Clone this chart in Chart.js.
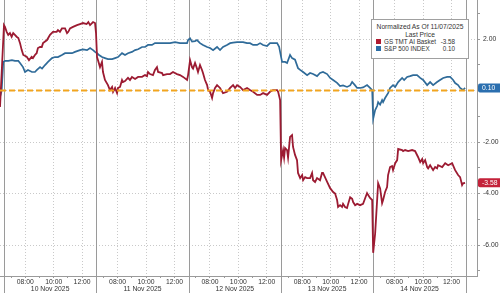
<!DOCTYPE html>
<html lang="en">
<head>
<meta charset="UTF-8">
<title>GS TMT AI Basket vs S&P 500 Index</title>
<script src="https://cdn.jsdelivr.net/npm/chart.js"></script>
<style>
  body { margin: 0; background: #fff; }
  .wrap { position: relative; width: 500px; height: 293px; overflow: hidden; }
  canvas { display: block; }
  .legend {
    position: absolute; left: 371px; top: 19px; width: 96px; height: 35px;
    border: 1px solid #a0a0a0; background: #fff;
    font-family: 'Liberation Sans', sans-serif; font-size: 6.7px; color: #333;
    padding-top: 3px; box-sizing: content-box;
  }
  .legend .c { text-align: center; height: 7.5px; line-height: 7.5px; white-space: nowrap; }
  .legend .row { display: flex; align-items: center; height: 7px; line-height: 7px; white-space: nowrap; font-size: 6.3px; }
  .legend .sq { width: 5px; height: 5px; margin-left: 4px; margin-right: 3px; flex: none; }
  .legend .v { margin-left: auto; margin-right: 13px; }
</style>
</head>
<body>
<div class="wrap">
  <canvas id="chart" width="500" height="293"></canvas>
  <div class="legend">
    <div class="c">Normalized As Of 11/07/2025</div>
    <div class="c">Last Price</div>
    <div class="row"><span class="sq" style="background:#b01a30"></span><span>GS TMT AI Basket</span><span class="v" id="lvBasket"></span></div>
    <div class="row"><span class="sq" style="background:#2c6ea6"></span><span>S&amp;P 500 INDEX</span><span class="v" id="lvSpx"></span></div>
  </div>
</div>
<script>
// time axis is in trading hours since the 10 Nov open (06:30), 6.5 h per session
const dayLength = 6.5;
const dates = ['10 Nov 2025', '11 Nov 2025', '12 Nov 2025', '13 Nov 2025', '14 Nov 2025'];
const hourTicks = [0.5, 1.5, 2.5, 3.5, 4.5, 5.5];
const hourLabels = ['', '08:00', '', '10:00', '', '12:00'];
const yTicks = [3, 2, 1, 0, -1, -2, -3, -4, -5, -6, -7];
const yLabels = ['', '2.00', '', '', '', '-2.00', '', '-4.00', '', '-6.00', ''];

// GS TMT AI Basket
const basketT = [-0.28, 0.00, 0.07, 0.19, 0.30, 0.42, 0.54, 0.65, 0.77, 0.89, 1.01, 1.13, 1.25, 1.36, 1.60, 1.76, 1.95, 2.04, 2.18, 2.30,
  2.39, 2.54, 2.66, 2.75, 3.03, 3.24, 3.45, 3.71, 3.80, 3.94, 4.08, 4.30, 4.44, 4.53, 4.65, 4.86, 5.14, 5.35, 5.56, 5.82,
  5.94, 6.06, 6.27, 6.41, 6.48, 6.55, 6.62, 6.76, 6.90, 6.97, 7.11, 7.32, 7.46, 7.61, 7.68, 7.82, 7.96, 8.03, 8.17, 8.31,
  8.38, 8.52, 8.73, 8.87, 9.01, 9.23, 9.44, 9.72, 9.93, 10.07, 10.14, 10.28, 10.49, 10.63, 10.77, 10.85, 11.13, 11.20, 11.48, 11.69,
  11.90, 12.18, 12.39, 12.61, 12.89, 12.96, 13.10, 13.24, 13.31, 13.45, 13.59, 13.66, 13.80, 13.94, 14.01, 14.15, 14.30, 14.37, 14.51, 14.65,
  14.72, 14.86, 15.00, 15.21, 15.42, 15.70, 15.92, 16.13, 16.27, 16.41, 16.62, 16.83, 17.11, 17.32, 17.54, 17.82, 18.03, 18.24, 18.52, 18.73,
  18.94, 19.23, 19.30, 19.44, 19.51, 19.65, 19.72, 19.79, 19.93, 20.00, 20.14, 20.28, 20.35, 20.49, 20.63, 20.70, 20.85, 20.99, 21.06, 21.20,
  21.34, 21.55, 21.69, 21.76, 21.90, 22.04, 22.25, 22.39, 22.46, 22.75, 22.96, 23.17, 23.31, 23.45, 23.52, 23.66, 23.80, 23.87, 24.01, 24.15,
  24.23, 24.37, 24.51, 24.58, 24.72, 24.86, 25.07, 25.28, 25.56, 25.63, 25.77, 25.92, 25.99, 26.13, 26.27, 26.34, 26.48, 26.62, 26.69, 26.83,
  26.97, 27.04, 27.18, 27.32, 27.39, 27.54, 27.68, 27.75, 28.03, 28.10, 28.24, 28.45, 28.73, 28.94, 29.15, 29.30, 29.44, 29.51, 29.65, 29.79,
  29.86, 30.00, 30.21, 30.35, 30.49, 30.56, 30.85, 31.06, 31.27, 31.55, 31.76, 31.97, 32.11, 32.25, 32.32, 32.46];
const basketV = [-0.64, 2.54, 2.47, 2.28, 2.16, 2.23, 2.09, 2.23, 2.16, 2.09, 2.04, 1.84, 1.57, 1.38, 1.31, 1.18, 1.31, 1.26, 1.38, 1.45,
  1.65, 1.69, 1.69, 1.84, 1.96, 2.16, 2.28, 2.28, 2.35, 2.28, 2.41, 2.41, 2.23, 2.28, 2.41, 2.47, 2.54, 2.58, 2.62, 2.58,
  2.66, 2.54, 2.66, 2.62, 2.23, 1.30, 1.18, 0.91, 1.11, 0.72, 0.41, 0.21, 0.02, 0.14, -0.05, 0.10, -0.10, 0.10, 0.14, 0.41,
  0.33, 0.37, 0.49, 0.41, 0.53, 0.45, 0.53, 0.53, 0.60, 0.56, 0.72, 0.64, 0.60, 0.80, 0.91, 0.72, 0.68, 0.60, 0.64, 0.64,
  0.72, 0.64, 0.60, 0.53, 0.41, 0.60, 1.18, 0.90, 0.85, 1.07, 0.85, 0.72, 0.99, 0.80, 0.68, 0.41, 0.21, 0.02, -0.05, -0.29,
  -0.10, 0.10, 0.21, 0.10, -0.10, -0.05, 0.10, 0.21, 0.10, 0.21, 0.14, 0.02, 0.10, 0.02, -0.05, -0.17, -0.17, -0.10, -0.17, -0.05,
  0.02, 0.02, -0.05, -0.37, -2.70, -2.31, -2.60, -2.23, -2.31, -2.60, -1.80, -1.73, -2.19, -2.50, -2.70, -3.20, -3.40, -3.28, -3.48, -3.36,
  -3.40, -3.40, -3.20, -3.48, -3.55, -3.40, -3.48, -3.20, -3.20, -3.55, -3.79, -3.94, -4.00, -4.25, -4.52, -4.45, -4.52, -4.40, -4.52, -4.56,
  -4.40, -4.14, -4.20, -4.33, -4.45, -4.40, -4.45, -4.40, -3.98, -4.05, -4.17, -4.25, -6.30, -5.55, -4.25, -3.60, -3.80, -4.37, -4.25, -3.94,
  -3.75, -3.28, -2.97, -2.93, -3.09, -2.82, -2.70, -2.27, -2.31, -2.35, -2.31, -2.35, -2.31, -2.35, -2.58, -2.78, -2.66, -2.82, -2.70, -2.97,
  -3.02, -2.90, -3.09, -2.97, -3.02, -2.90, -2.97, -2.82, -2.90, -2.82, -3.09, -3.28, -3.36, -3.67, -3.60, -3.58];

// S&P 500 INDEX
const spxT = [-0.28, -0.16, -0.05, 0.07, 0.30, 0.56, 0.77, 1.01, 1.13, 1.34, 1.48, 1.69, 1.97, 2.18, 2.32, 2.54, 2.68, 2.89, 3.10, 3.38,
  3.59, 3.80, 4.08, 4.30, 4.51, 4.79, 5.00, 5.35, 5.56, 5.85, 6.06, 6.27, 6.41, 6.55, 6.69, 6.90, 7.11, 7.32, 7.61, 7.82,
  8.03, 8.31, 8.52, 8.73, 9.01, 9.23, 9.44, 9.72, 9.93, 10.14, 10.42, 10.63, 10.99, 11.34, 11.69, 12.04, 12.39, 12.61, 12.89, 12.96,
  13.10, 13.24, 13.45, 13.59, 13.80, 14.01, 14.30, 14.51, 14.72, 15.00, 15.21, 15.42, 15.70, 15.92, 16.13, 16.41, 16.62, 16.83, 17.11, 17.32,
  17.54, 17.82, 18.03, 18.24, 18.52, 18.73, 18.94, 19.23, 19.37, 19.51, 19.58, 19.79, 19.93, 20.14, 20.28, 20.49, 20.70, 20.85, 21.06, 21.34,
  21.55, 21.76, 22.04, 22.25, 22.46, 22.75, 22.96, 23.17, 23.45, 23.66, 23.87, 24.15, 24.37, 24.51, 24.72, 24.86, 25.07, 25.28, 25.56, 25.77,
  25.92, 25.99, 26.13, 26.27, 26.34, 26.48, 26.62, 26.69, 26.83, 27.04, 27.18, 27.39, 27.54, 27.75, 28.03, 28.17, 28.38, 28.59, 28.80, 29.08,
  29.30, 29.51, 29.79, 30.00, 30.21, 30.49, 30.70, 30.92, 31.20, 31.41, 31.62, 31.76, 31.97, 32.11, 32.32, 32.46];
const spxV = [-0.25, 0.00, 1.11, 1.15, 1.15, 1.18, 1.15, 1.15, 1.07, 0.91, 0.72, 0.80, 0.72, 0.72, 0.80, 0.91, 0.85, 0.99, 1.11, 1.26,
  1.30, 1.30, 1.38, 1.45, 1.45, 1.45, 1.50, 1.57, 1.60, 1.57, 1.65, 1.57, 1.50, 1.45, 1.38, 1.30, 1.26, 1.22, 1.22, 1.26,
  1.30, 1.45, 1.38, 1.45, 1.50, 1.57, 1.60, 1.69, 1.69, 1.77, 1.77, 1.84, 1.84, 1.84, 1.84, 1.88, 1.84, 1.84, 1.84, 1.96,
  2.03, 1.90, 1.92, 1.96, 1.84, 1.77, 1.69, 1.65, 1.57, 1.69, 1.57, 1.69, 1.77, 1.84, 1.86, 1.88, 1.88, 1.88, 1.84, 1.84,
  1.77, 1.77, 1.84, 1.77, 1.73, 1.84, 1.84, 1.84, 1.70, 1.30, 1.11, 1.11, 1.07, 1.38, 1.26, 1.20, 0.87, 0.80, 0.72, 0.60,
  0.68, 0.64, 0.56, 0.68, 0.72, 0.64, 0.49, 0.41, 0.30, 0.17, 0.20, 0.14, 0.20, 0.33, 0.20, 0.10, 0.10, 0.12, 0.21, 0.10,
  0.02, -1.10, -0.76, -0.60, -0.45, -0.55, -0.37, -0.45, -0.29, -0.10, 0.10, 0.21, 0.14, 0.33, 0.49, 0.41, 0.53, 0.56, 0.60, 0.60,
  0.49, 0.41, 0.21, 0.33, 0.21, 0.33, 0.41, 0.49, 0.53, 0.53, 0.41, 0.29, 0.21, 0.10, 0.02, 0.10];

const xMin = -0.28, xMax = 33.3;
const yMin = -7.2, yMax = 3.515;

const colors = {
  basket: '#9c1b32',
  spx: '#2f6b99',
  basketTag: '#c4223a',
  spxTag: '#2b6faf',
  zero: '#f2a51f',
  grid: '#c9c9c9',
  axis: '#9a9a9a',
  text: '#333333'
};

const toPoints = (t, v) => t.map((x, i) => ({ x: x, y: v[i] }));
const basketLast = basketV[basketV.length - 1];
const spxLast = spxV[spxV.length - 1];
document.getElementById('lvBasket').textContent = basketLast.toFixed(2);
document.getElementById('lvSpx').textContent = spxLast.toFixed(2);

// hourly ticks for every session, labels only on 08/10/12
const timeTicks = [];
const timeLabel = {};
dates.forEach((d, di) => {
  hourTicks.forEach((h, hi) => {
    const v = +(di * dayLength + h).toFixed(2);
    timeTicks.push({ value: v });
    timeLabel[v.toFixed(2)] = hourLabels[hi];
  });
});
const dateTicks = dates.map((d, di) => ({ value: di * dayLength + dayLength / 2 }));
const yLabelOf = {};
yTicks.forEach((v, i) => { yLabelOf[v] = yLabels[i]; });

// no extra room for half labels at the ends, plot goes edge to edge
const noPad = (s) => { s.paddingTop = 0; s.paddingBottom = 0; s.paddingLeft = 0; s.paddingRight = 0; };

Chart.defaults.font.family = "'Liberation Sans', sans-serif";
Chart.defaults.font.size = 6.8;
Chart.defaults.color = colors.text;

// solid session separators, running through the label rows as well
const daySeparators = {
  id: 'daySeparators',
  beforeDatasetsDraw(chart) {
    const { ctx, chartArea, scales: { x } } = chart;
    ctx.save();
    ctx.strokeStyle = colors.axis;
    ctx.lineWidth = 1;
    for (let d = 0; d <= dates.length; d++) {
      const px = Math.round(x.getPixelForValue(d * dayLength)) + 0.5;
      if (px < chartArea.left || px > chartArea.right) continue;
      ctx.beginPath();
      ctx.moveTo(px, chartArea.top);
      ctx.lineTo(px, chart.height);
      ctx.stroke();
    }
    ctx.restore();
  }
};

// last-value tags on the right axis
const lastTags = {
  id: 'lastTags',
  afterDraw(chart) {
    const { ctx, chartArea, scales: { y } } = chart;
    const tags = [[spxLast, colors.spxTag], [basketLast, colors.basketTag]];
    ctx.save();
    tags.forEach(([v, c]) => {
      const py = y.getPixelForValue(v);
      const left = chartArea.right + 1, w = chart.width - left, h = 9;
      ctx.fillStyle = c;
      ctx.beginPath();
      ctx.roundRect(left, py - h / 2, w + 3, h, 2);
      ctx.fill();
      ctx.fillStyle = '#fff';
      ctx.font = "6.8px 'Liberation Sans', sans-serif";
      ctx.textBaseline = 'middle';
      ctx.fillText(v.toFixed(2), left + 4, py + 0.5);
    });
    ctx.restore();
  }
};

new Chart(document.getElementById('chart'), {
  type: 'line',
  data: {
    datasets: [
      {
        label: 'zero',
        data: [{ x: xMin, y: 0 }, { x: xMax, y: 0 }],
        borderColor: colors.zero,
        borderWidth: 2,
        borderDash: [6, 3],
        pointRadius: 0,
        order: 0
      },
      {
        label: 'GS TMT AI Basket',
        data: toPoints(basketT, basketV),
        borderColor: colors.basket,
        borderWidth: 1.8,
        pointRadius: 0,
        tension: 0,
        order: 1
      },
      {
        label: 'S&P 500 INDEX',
        data: toPoints(spxT, spxV),
        borderColor: colors.spx,
        borderWidth: 1.7,
        pointRadius: 0,
        tension: 0,
        order: 2
      }
    ]
  },
  options: {
    responsive: false,
    animation: false,
    layout: { padding: 0 },
    plugins: { legend: { display: false }, tooltip: { enabled: false } },
    scales: {
      x: {
        type: 'linear',
        position: 'bottom',
        weight: 0,
        min: xMin,
        max: xMax,
        afterBuildTicks: (s) => { s.ticks = timeTicks.slice(); },
        afterFit: (s) => { s.height = 9.5; noPad(s); },
        ticks: {
          autoSkip: false,
          maxRotation: 0,
          padding: 0.5,
          callback: (v) => timeLabel[(+v).toFixed(2)] || ''
        },
        grid: {
          color: (c) => (c.tick && timeLabel[c.tick.value.toFixed(2)]) ? colors.grid : 'rgba(0,0,0,0)',
          tickColor: colors.axis,
          tickLength: 2
        },
        border: { display: true, color: colors.axis, dash: [1, 2] }
      },
      x2: {
        type: 'linear',
        position: 'bottom',
        weight: 1,
        min: xMin,
        max: xMax,
        afterBuildTicks: (s) => { s.ticks = dateTicks.slice(); },
        afterFit: (s) => { s.height = 7.5; noPad(s); },
        ticks: {
          autoSkip: false,
          maxRotation: 0,
          padding: 0,
          callback: (v) => dates[Math.floor(v / dayLength)] || ''
        },
        grid: { display: false, drawTicks: false },
        border: { display: false }
      },
      y: {
        type: 'linear',
        position: 'right',
        min: yMin,
        max: yMax,
        afterBuildTicks: (s) => { s.ticks = yTicks.map(v => ({ value: v })); },
        afterFit: (s) => { s.width = 23; noPad(s); },
        ticks: {
          padding: 3,
          crossAlign: 'near',
          callback: (v) => yLabelOf[v] || ''
        },
        grid: {
          color: (c) => (c.tick && c.tick.value % 2 === 0) ? colors.grid : 'rgba(0,0,0,0)',
          tickColor: colors.axis,
          tickLength: 3
        },
        border: { display: true, color: colors.axis, dash: [1, 2] }
      }
    }
  },
  plugins: [daySeparators, lastTags]
});
</script>
</body>
</html>
